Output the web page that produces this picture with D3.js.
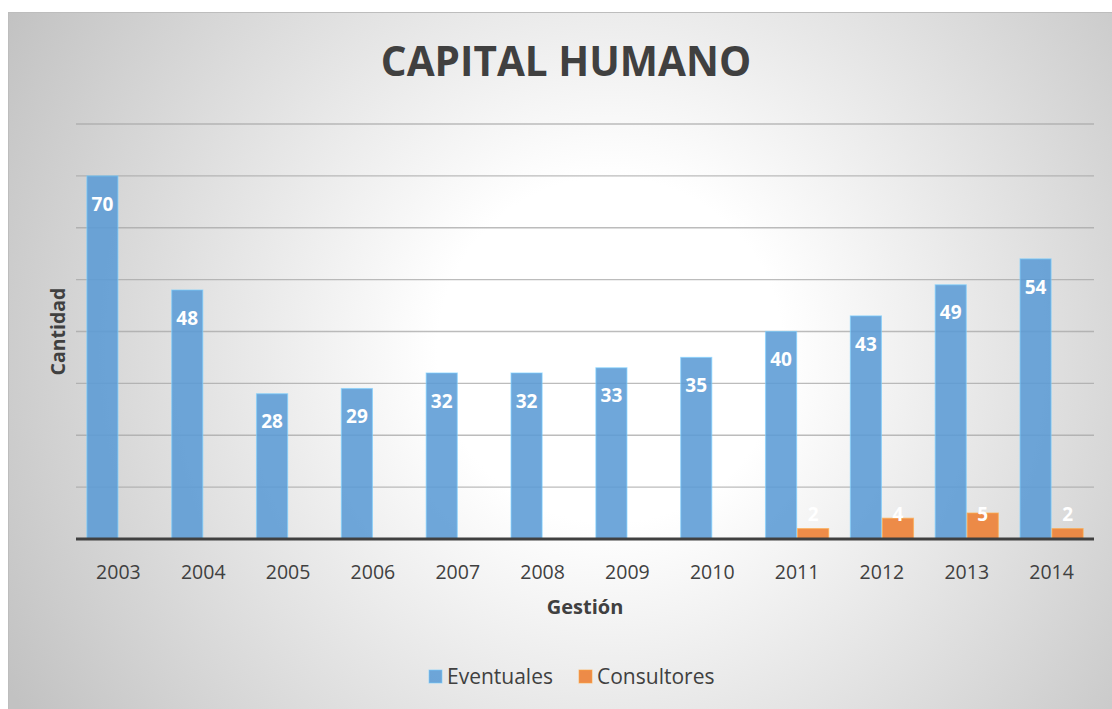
<!DOCTYPE html>
<html><head><meta charset="utf-8">
<script src="https://cdn.jsdelivr.net/npm/d3@7"></script>
<style>body{margin:0;background:#fff}svg{display:block}text{font-family:"Open Sans",sans-serif}</style>
</head><body>
<svg id="c" width="1112" height="709"></svg>
<script>
const years = ["2003","2004","2005","2006","2007","2008","2009","2010","2011","2012","2013","2014"];
const eventuales = [70,48,28,29,32,32,33,35,40,43,49,54];
const consultores = [null,null,null,null,null,null,null,null,2,4,5,2];
const seriesNames = ["Eventuales","Consultores"];
const seriesColors = ["#5b9bd5","#ed7d31"];
const yTicks = [0,10,20,30,40,50,60,70,80];
const title = "CAPITAL HUMANO";
const xTitle = "Gestión";
const yTitle = "Cantidad";

const svg = d3.select("#c");
const defs = svg.append("defs");
const g = defs.append("radialGradient").attr("id","bg").attr("gradientUnits","userSpaceOnUse")
  .attr("cx",610).attr("cy",350).attr("r",690);
g.append("stop").attr("offset","0").attr("stop-color","#ffffff");
g.append("stop").attr("offset","0.25").attr("stop-color","#ffffff");
g.append("stop").attr("offset","1").attr("stop-color","#c2c2c2");

svg.append("rect").attr("x",8.5).attr("y",12.5).attr("width",1110).attr("height",700)
  .attr("fill","url(#bg)").attr("stroke","#bdbdbd").attr("stroke-width",1);

const L=76, R=1094, T=124, B=539;
const y = d3.scaleLinear().domain([0,80]).range([B,T]);
const x0 = d3.scaleBand().domain(years).range([L,R]).paddingInner(0.245).paddingOuter(0.1225);
const x1 = d3.scaleBand().domain(seriesNames).range([0,x0.bandwidth()]);

// gridlines
svg.append("g").selectAll("line").data(yTicks.filter(d=>d>0)).join("line")
  .attr("x1",L).attr("x2",R).attr("y1",d=>y(d)).attr("y2",d=>y(d))
  .attr("stroke","#a6a6a6").attr("stroke-opacity",0.75).attr("stroke-width",1.3);

const data = [eventuales, consultores];
data.forEach((vals,si)=>{
  const grp = svg.append("g");
  grp.selectAll("rect").data(years.map((yr,i)=>({yr,v:vals[i]})).filter(d=>d.v!=null)).join("rect")
    .attr("x",d=>x0(d.yr)+x1(seriesNames[si])+0.5)
    .attr("width",x1.bandwidth()-1)
    .attr("y",d=>y(d.v))
    .attr("height",d=>y(0)-y(d.v))
    .attr("fill",seriesColors[si]).attr("fill-opacity",0.88)
    .attr("stroke",d3.color(seriesColors[si]).brighter(0.8)).attr("stroke-opacity",0.6).attr("stroke-width",1.2);
  grp.selectAll("text").data(years.map((yr,i)=>({yr,v:vals[i]})).filter(d=>d.v!=null)).join("text")
    .attr("x",d=>x0(d.yr)+x1(seriesNames[si])+x1.bandwidth()/2)
    .attr("y",d=> si===0 ? y(d.v)+28 : y(0)-25)
    .attr("dy","0.35em")
    .attr("text-anchor","middle").attr("fill","#fff").attr("font-weight","bold").attr("font-size",19)
    .text(d=>d.v);
});

// axis baseline
svg.append("line").attr("x1",L).attr("x2",R).attr("y1",y(0)).attr("y2",y(0))
  .attr("stroke","#404040").attr("stroke-width",3);

// x labels
const xa = svg.append("g").attr("transform",`translate(0,${y(0)})`)
  .call(d3.axisBottom(x0).tickSize(0).tickPadding(0));
xa.select(".domain").remove();
xa.selectAll("text").attr("y",33).attr("dy","0.35em").attr("font-size",19.5)
  .attr("fill","#404040").attr("font-family","'Open Sans',sans-serif");

svg.append("text").attr("x",566).attr("y",62).attr("dy","0.35em").attr("text-anchor","middle")
  .attr("font-size",40.5).attr("font-weight","bold").attr("fill","#404040").text(title);
svg.append("text").attr("x",585).attr("y",607).attr("dy","0.35em").attr("text-anchor","middle")
  .attr("font-size",20).attr("font-weight","bold").attr("fill","#404040").text(xTitle);
svg.append("text").attr("transform",`translate(58,${(T+B)/2}) rotate(-90)`).attr("dy","0.35em").attr("text-anchor","middle")
  .attr("font-size",19.5).attr("font-weight","bold").attr("fill","#404040").text(yTitle);

// legend
const lg = svg.append("g");
const legendX = [429, 579];
seriesNames.forEach((n,i)=>{
  lg.append("rect").attr("x",legendX[i]).attr("y",670).attr("width",13).attr("height",13)
    .attr("fill",seriesColors[i]).attr("fill-opacity",0.88)
    .attr("stroke",d3.color(seriesColors[i]).brighter(0.8)).attr("stroke-opacity",0.6);
  lg.append("text").attr("x",legendX[i]+18).attr("y",676.5).attr("dy","0.35em")
    .attr("font-size",21).attr("fill","#404040").text(n);
});
</script>
</body></html>
